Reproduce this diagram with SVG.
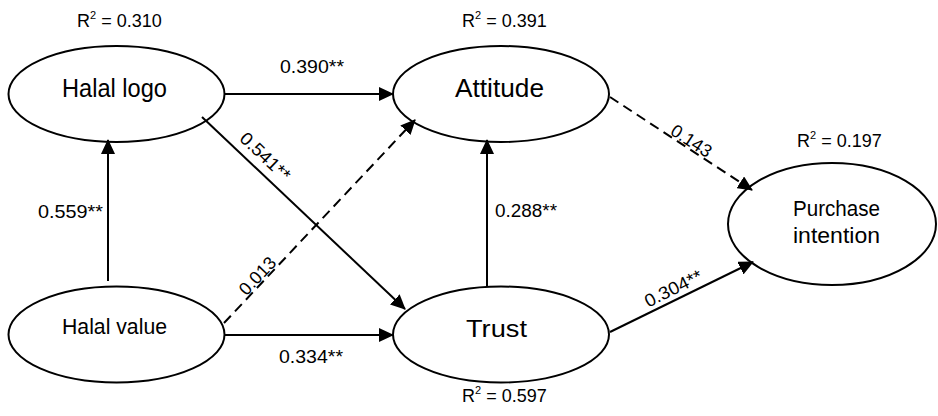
<svg xmlns="http://www.w3.org/2000/svg" width="938" height="416" viewBox="0 0 938 416">
<style>
.node ellipse{fill:#fff;stroke:#000;stroke-width:2}
.nt{font-family:"Liberation Sans",Arial,sans-serif;fill:#000;text-anchor:middle}
.lbl{font-family:"Liberation Sans",Arial,sans-serif;font-size:18px;fill:#000}
.rl{text-anchor:middle}
.c{stroke:#000;stroke-width:2;fill:none;marker-end:url(#ah)}
.d{stroke-dasharray:10 6}
</style>
<defs>
<marker id="ah" markerUnits="userSpaceOnUse" viewBox="0 0 15 14" markerWidth="15" markerHeight="14" refX="14" refY="7" orient="auto"><path d="M0,0 L15,7 L0,14 z" fill="#000"/></marker>
</defs>
<rect width="938" height="416" fill="#fff"/>
<g id="halal-logo" class="node">
<ellipse cx="116.5" cy="94" rx="108" ry="48"/>
<text class="nt" x="114.5" y="97" font-size="25" textLength="105" lengthAdjust="spacingAndGlyphs">Halal logo</text>
</g>
<g id="attitude" class="node">
<ellipse cx="501" cy="94" rx="108" ry="48"/>
<text class="nt" x="499.5" y="97" font-size="25" textLength="89" lengthAdjust="spacingAndGlyphs">Attitude</text>
</g>
<g id="halal-value" class="node">
<ellipse cx="116.5" cy="334.5" rx="108" ry="48"/>
<text class="nt" x="114.5" y="334" font-size="22" textLength="105" lengthAdjust="spacingAndGlyphs">Halal value</text>
</g>
<g id="trust" class="node">
<ellipse cx="501" cy="334.5" rx="108" ry="48"/>
<text class="nt" x="496.5" y="337" font-size="24" textLength="61" lengthAdjust="spacingAndGlyphs">Trust</text>
</g>
<g id="purchase-intention" class="node">
<ellipse cx="832" cy="224" rx="104" ry="61"/>
<text class="nt" x="836.5" y="216" font-size="22" textLength="87" lengthAdjust="spacingAndGlyphs">Purchase</text>
<text class="nt" x="836.5" y="243" font-size="22" textLength="87" lengthAdjust="spacingAndGlyphs">intention</text>
</g>
<g id="connectors">
<path class="c" d="M225,94 L393,94"/>
<path class="c" d="M108,281 L108,140"/>
<path class="c" d="M202,117 L405,309"/>
<path class="c d" d="M224,323 L415,120"/>
<path class="c" d="M487,286 L487,140"/>
<path class="c d" d="M610,97 L752,190"/>
<path class="c" d="M225,335 L393,335"/>
<path class="c" d="M610,332 L753,262"/>
</g>
<g id="labels">
<text class="lbl" x="77" y="27">R<tspan font-size="11" dy="-8">2</tspan><tspan dy="8"> = 0.310</tspan></text>
<text class="lbl" x="462" y="27">R<tspan font-size="11" dy="-8">2</tspan><tspan dy="8"> = 0.391</tspan></text>
<text class="lbl" x="797" y="147">R<tspan font-size="11" dy="-8">2</tspan><tspan dy="8"> = 0.197</tspan></text>
<text class="lbl" x="462" y="402">R<tspan font-size="11" dy="-8">2</tspan><tspan dy="8"> = 0.597</tspan></text>
<text class="lbl" x="280" y="73" textLength="64" lengthAdjust="spacingAndGlyphs">0.390**</text>
<text class="lbl" x="279" y="363" textLength="64" lengthAdjust="spacingAndGlyphs">0.334**</text>
<text class="lbl" x="38" y="218" textLength="65" lengthAdjust="spacingAndGlyphs">0.559**</text>
<text class="lbl" x="495" y="217" textLength="62" lengthAdjust="spacingAndGlyphs">0.288**</text>
<text class="lbl rl" transform="translate(261,161) rotate(43.5)" textLength="62" lengthAdjust="spacingAndGlyphs">0.541**</text>
<text class="lbl rl" transform="translate(262,280) rotate(-46.7)">0.013</text>
<text class="lbl rl" transform="translate(688,146) rotate(33.2)">0.143</text>
<text class="lbl rl" transform="translate(676,294) rotate(-26.1)" textLength="62" lengthAdjust="spacingAndGlyphs">0.304**</text>
</g>
</svg>
